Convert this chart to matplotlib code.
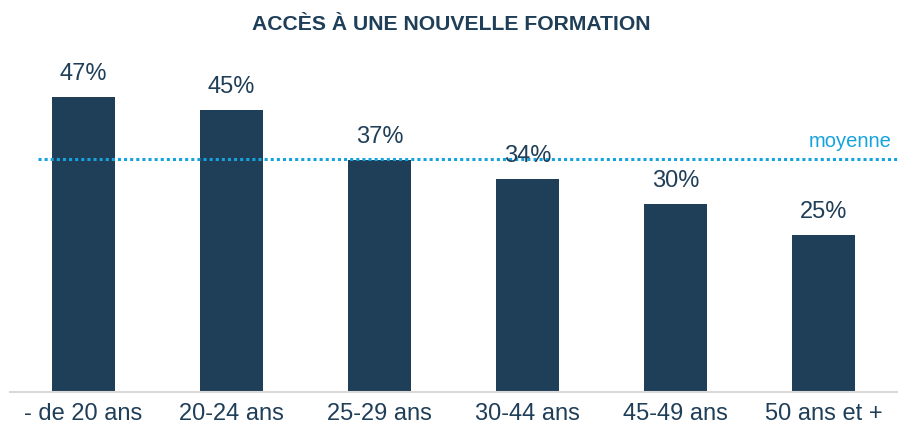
import matplotlib.pyplot as plt

# Accès à une nouvelle formation, by age group
categories = ['- de 20 ans', '20-24 ans', '25-29 ans', '30-44 ans', '45-49 ans', '50 ans et +']
values = [47, 45, 37, 34, 30, 25]
moyenne = 37.2

navy = '#1f3e58'
blue = '#16a3dd'

plt.rcParams['font.family'] = ['Liberation Sans', 'DejaVu Sans']

fig = plt.figure(figsize=(8.98, 4.29), dpi=100)
W, H = 898, 429
# axes placed in pixel terms: x 9.5..897.5, baseline at y=392, ylim 0..55
ppu = 295 / 47.0
ax = fig.add_axes([9.5 / W, (H - 392) / H, 888 / W, 55 * ppu / H])

x = range(len(categories))
ax.bar(x, values, width=0.42, color=navy, zorder=2)
ax.set_xlim(-0.5, len(categories) - 0.5)
ax.set_ylim(0, 55)

for xi, v in zip(x, values):
    ax.annotate(f'{v}%', (xi, v), xytext=(0, 12), textcoords='offset points',
                ha='center', va='baseline', fontsize=17, color=navy, zorder=4)

# average line
ax.plot([-0.31, len(categories) - 0.5], [moyenne, moyenne], ls=(0, (1, 1)),
        color=blue, lw=2.2, zorder=3, solid_capstyle='butt')
ax.text(len(categories) - 0.54, moyenne + 1.9, 'moyenne', ha='right',
        va='baseline', fontsize=14.5, color=blue)

for s in ['top', 'right', 'left']:
    ax.spines[s].set_visible(False)
ax.spines['bottom'].set_color('#d9d9d9')
ax.spines['bottom'].set_linewidth(1.5)
ax.set_yticks([])
ax.set_xticks(list(x))
ax.set_xticklabels(categories, fontsize=17, color=navy)
ax.tick_params(axis='x', length=0, pad=8)

fig.text(0.503, 1 - 24 / H, 'ACCÈS À UNE NOUVELLE FORMATION', ha='center',
         va='center', fontsize=15.2, fontweight='bold', color=navy)

fig.savefig('out.png', dpi=100)
